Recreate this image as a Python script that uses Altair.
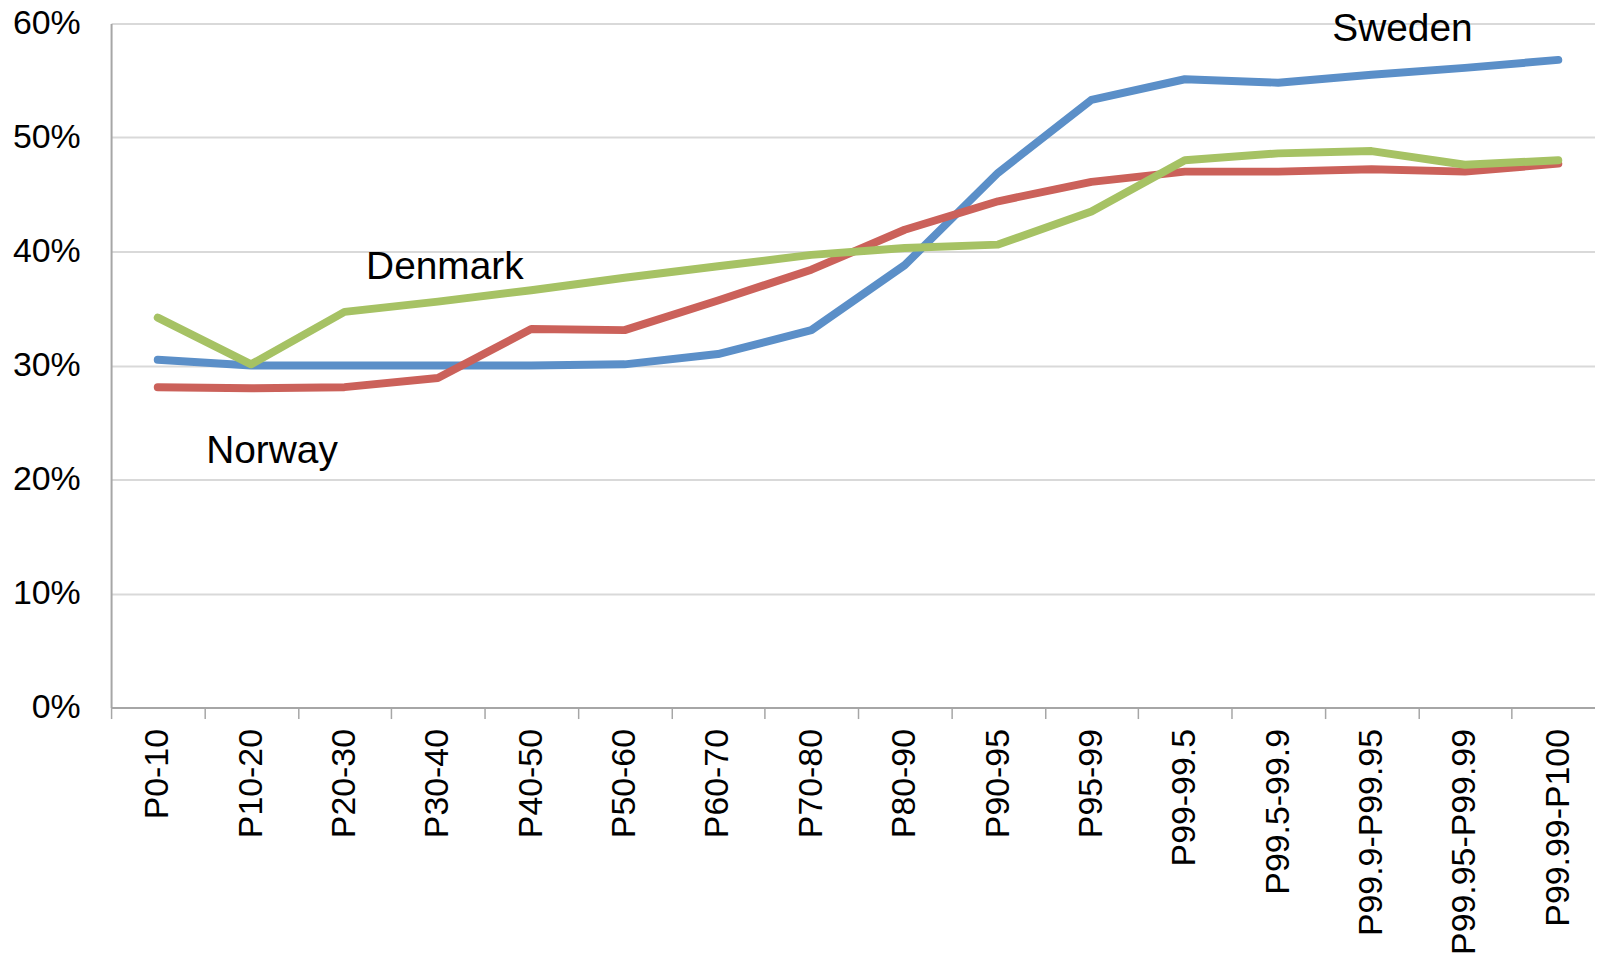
import altair as alt
import pandas as pd

categories = ["P0-10", "P10-20", "P20-30", "P30-40", "P40-50", "P50-60", "P60-70",
              "P70-80", "P80-90", "P90-95", "P95-99", "P99-99.5", "P99.5-99.9",
              "P99.9-P99.95", "P99.95-P99.99", "P99.99-P100"]

sweden = [0.305, 0.300, 0.300, 0.300, 0.300, 0.301, 0.310, 0.331, 0.388, 0.469,
          0.533, 0.551, 0.548, 0.555, 0.561, 0.568]
norway = [0.281, 0.280, 0.281, 0.289, 0.332, 0.331, 0.357, 0.384, 0.419, 0.444,
          0.461, 0.470, 0.470, 0.472, 0.470, 0.477]
denmark = [0.342, 0.301, 0.347, 0.356, 0.366, 0.377, 0.387, 0.397, 0.403, 0.406,
           0.435, 0.480, 0.486, 0.488, 0.476, 0.480]

countries = ["Sweden", "Norway", "Denmark"]
colors = ["#5B8FC8", "#CB615A", "#A6C264"]

label_text = ["Sweden", "Denmark", "Norway"]
label_cat = ["P99.9-P99.95", "P30-40", "P10-20"]
label_val = [0.595, 0.3865, 0.225]
label_dx = [31, 7, 21]

rows = []
for name, vals in zip(countries, [sweden, norway, denmark]):
    for c, v in zip(categories, vals):
        rows.append({"cat": c, "value": v, "country": name})
df = pd.DataFrame(rows)

labels = pd.DataFrame({"text": label_text, "cat": label_cat, "value": label_val, "dx": label_dx})

FONT = "Liberation Sans"
AXIS_GRAY = "#A6A6A6"

x_enc = alt.X(
    "cat:N", sort=categories,
    scale=alt.Scale(type="band", domain=categories, range=[0, 1500], paddingInner=0, paddingOuter=0),
    axis=alt.Axis(
        title=None, labelAngle=270, tickBand="extent", ticks=True, tickSize=11,
        tickColor=AXIS_GRAY, tickWidth=1.5, domainColor=AXIS_GRAY, domainWidth=2,
        labelFont=FONT, labelFontSize=34, labelColor="#000000", labelPadding=10,
        grid=False, labelOverlap=False, labelLimit=400,
    ),
)
y_enc = alt.Y(
    "value:Q",
    scale=alt.Scale(domain=[0, 0.6], nice=False, zero=True),
    axis=alt.Axis(
        title=None, values=[0, 0.1, 0.2, 0.3, 0.4, 0.5, 0.6], format=".0%",
        ticks=False, tickSize=0, domainColor=AXIS_GRAY, domainWidth=2,
        gridColor="#D9D9D9", gridWidth=2, labelFont=FONT, labelFontSize=34,
        labelColor="#000000", labelPadding=31,
    ),
)

lines = alt.Chart(df).mark_line(strokeWidth=8, strokeCap="round", strokeJoin="round").encode(
    x=x_enc,
    y=y_enc,
    color=alt.Color("country:N", scale=alt.Scale(domain=countries, range=colors), legend=None),
    order=alt.Order("country:N"),
)

texts = []
for i in range(len(label_text)):
    sub = labels.iloc[[i]]
    texts.append(
        alt.Chart(sub).mark_text(font=FONT, fontSize=39, color="#000000", align="center",
                                 baseline="middle", dx=int(label_dx[i])).encode(
            x=alt.X("cat:N", sort=categories),
            y=alt.Y("value:Q"),
            text="text:N",
        )
    )

chart = alt.layer(lines, *texts).properties(
    width=1490, height=687,
    autosize=alt.AutoSizeParams(type="none"),
    padding={"left": 103.5, "top": 13.5, "right": 0, "bottom": 252},
    background="#FFFFFF",
).configure_view(stroke=None)

chart.save("out.html", embed_options={"renderer": "svg", "actions": False})
